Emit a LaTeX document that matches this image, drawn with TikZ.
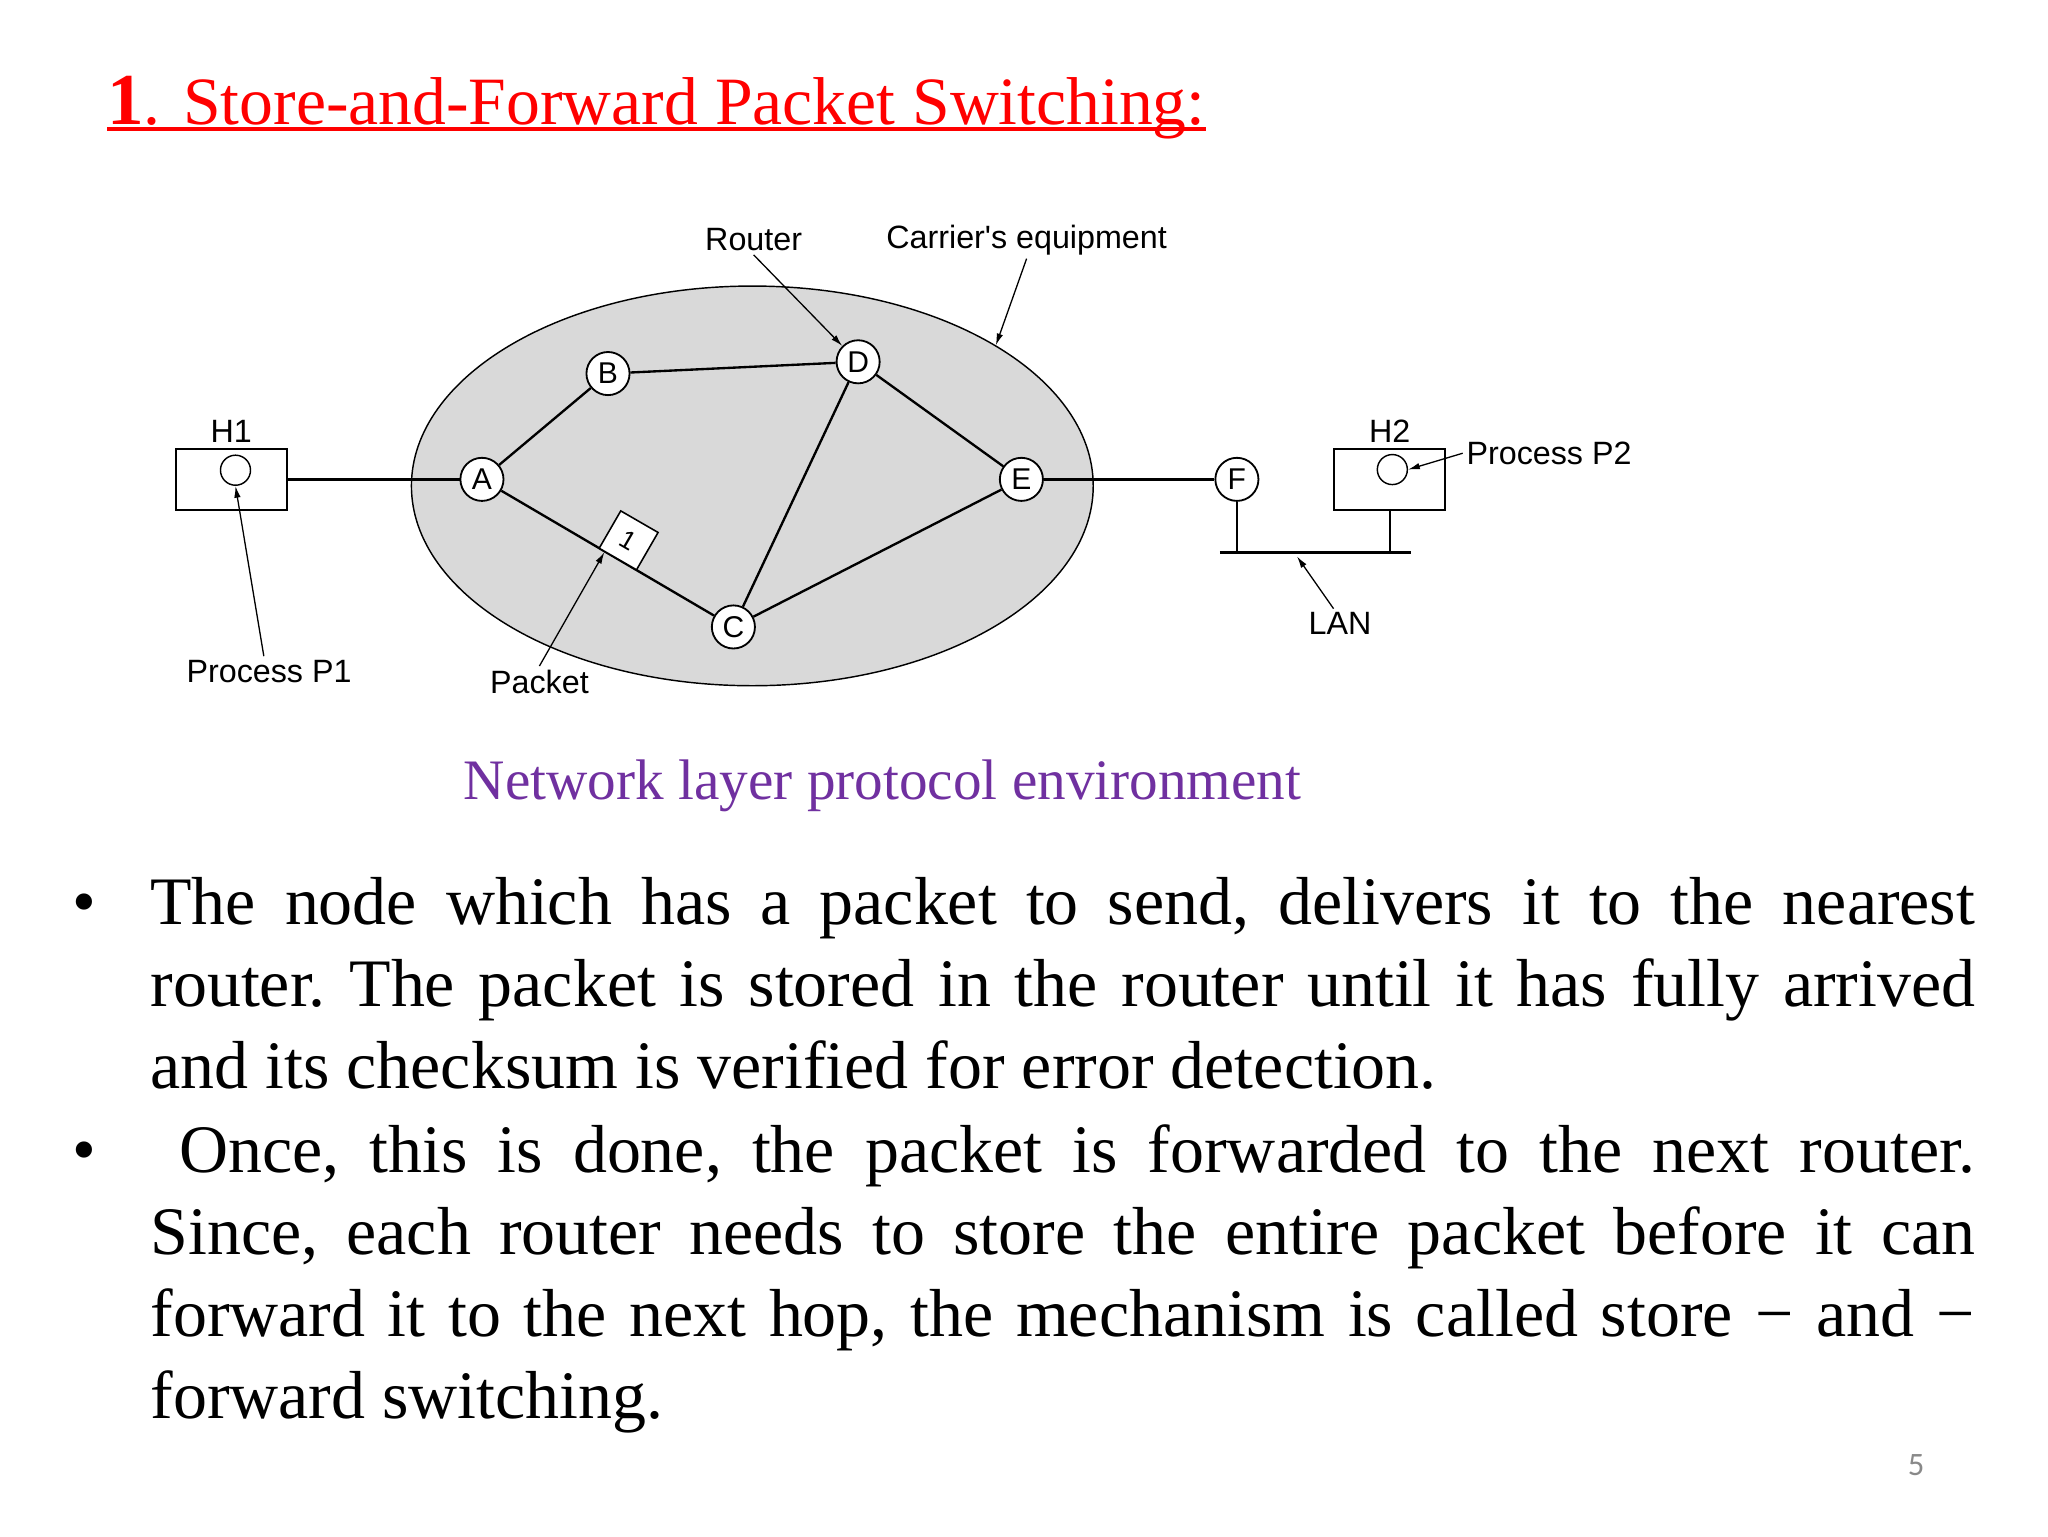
\documentclass[tikz,border=0pt]{standalone}
\usepackage{fontspec}
\setmainfont{Liberation Serif}
\newfontfamily\labelfont{Liberation Sans}
\newfontfamily\numfont{Carlito}
\usetikzlibrary{positioning,arrows.meta,shapes.geometric,calc}
\definecolor{titlered}{RGB}{255,0,0}
\definecolor{capviolet}{RGB}{112,48,160}
\definecolor{netgray}{RGB}{217,217,217}
\definecolor{pagegray}{RGB}{137,137,137}

\begin{document}
\begin{tikzpicture}[x=1pt, y=-1pt,
  lbl/.style={font=\labelfont\fontsize{24.7}{28}\selectfont, inner sep=0pt, outer sep=3pt},
  router/.style={circle, draw=black, line width=1.4pt, fill=white, minimum size=33pt, inner sep=0pt, font=\labelfont\fontsize{23}{26}\selectfont},
  hostbox/.style={rectangle, draw=black, line width=1.4pt, fill=white, minimum width=85pt, minimum height=47pt, inner sep=0pt},
  proc/.style={circle, draw=black, line width=1.1pt, minimum size=23pt, inner sep=0pt},
  link/.style={draw=black, line width=1.8pt},
  lanbus/.style={draw=black, line width=3pt},
  pointer/.style={draw=black, line width=1pt, -{Latex[length=9pt,width=5pt]}},
  bodytext/.style={font=\fontsize{52}{62.6}\selectfont, inner sep=0pt, anchor=base west}
]
\fill[white] (0,0) rectangle (1568,1176);
\useasboundingbox (0,0) rectangle (1568,1176);

% title
\node[anchor=base west, inner sep=0pt, text=titlered, font=\fontsize{51.8}{60}\selectfont] (ttl) at (82,95)
  {\textbf{\fontsize{56}{60}\selectfont 1}. Store-and-Forward Packet Switching:};
\draw[titlered, line width=3pt] ([yshift=-4pt]ttl.base west) -- ([yshift=-4pt]ttl.base east);

% carrier network
\node[ellipse, draw=black, fill=netgray, line width=1.1pt, minimum width=522pt, minimum height=306pt, inner sep=0pt] (carrier) at (576,372) {};

\node[router] (A) at (369,367) {A};
\node[router] (B) at (465.5,286) {B};
\node[router] (C) at (561.5,480) {C};
\node[router] (D) at (657,277) {D};
\node[router] (E) at (782,367) {E};
\node[router] (F) at (947,367) {F};

\node[hostbox] (H1) at (177,367) {};
\node[proc] (P1) at (180.3,360) {};
\node[lbl, above=1pt of H1] (lblh1) {H1};
\node[hostbox] (H2) at (1064,367) {};
\node[proc] (P2) at (1066,359.5) {};
\node[lbl, above=1pt of H2] (lblh2) {H2};

\draw[link] (H1) -- (A);
\draw[link] (A) -- (B);
\draw[link] (B) -- (D);
\draw[link] (D) -- (E);
\draw[link] (A) -- (C);
\draw[link] (C) -- (D);
\draw[link] (C) -- (E);
\draw[link] (E) -- (F);

\node[draw=black, fill=white, line width=1.2pt, minimum size=33pt, inner sep=0pt, rotate=-30,
  font=\labelfont\fontsize{20}{22}\selectfont] (pkt) at (481.3,413.7) {1};

% LAN
\coordinate (lanL) at (934,423);
\coordinate (lanR) at (1080,423);
\draw[lanbus] (lanL) -- (lanR);
\draw[link] (F.south) -- (F.south |- lanL);
\draw[link] (H2.south) -- (H2.south |- lanL);
\coordinate (lantip) at (993,426);

% labels
\node[lbl] (lblrouter) at (577,183.5) {Router};
\node[lbl] (lblcarrier) at (786,183.5) {Carrier's equipment};
\node[lbl] (lblp1) at (206,514) {Process P1};
\node[lbl] (lblpkt) at (413,522) {Packet};
\node[lbl] (lbllan) at (1026,477.5) {LAN};
\node[lbl] (lblp2) at (1186,347) {Process P2};

\draw[pointer] (lblrouter.south) -- (D.north west);
\draw[pointer] (lblcarrier.south) -- (carrier.30);
\draw[pointer] ([xshift=-4pt]lblp1.north) -- (P1.south);
\draw[pointer] (lblpkt.north) -- (pkt.236);
\draw[pointer] ([xshift=-5pt]lbllan.north) -- (lantip);
\draw[pointer] (lblp2.west) -- (P2.east);

% caption
\node[anchor=base west, inner sep=0pt, text=capviolet, font=\fontsize{43.8}{50}\selectfont] (caption) at (355,612)
  {Network layer protocol environment};

% bullets
\node[bodytext] (bul1) at (55,708) {•};
\node[bodytext] (txt1) at (115,708) {\parbox[t]{1397pt}{\frenchspacing\hyphenpenalty=10000\tolerance=10000\hbadness=10000
  The node which has a packet to send, delivers it to the nearest\linebreak
  router. The packet is stored in the router until it has fully arrived\linebreak
  and its checksum is verified for error detection.}};
\node[bodytext] (bul2) at (55,898) {•};
\node[bodytext] (txt2) at (115,898) {\parbox[t]{1397pt}{\frenchspacing\hyphenpenalty=10000\tolerance=10000\hbadness=10000
  \hspace*{22pt}Once, this is done, the packet is forwarded to the next router.\linebreak
  Since, each router needs to store the entire packet before it can\linebreak
  forward it to the next hop, the mechanism is called store − and −\linebreak
  forward switching.}};

\node[anchor=base, inner sep=0pt, text=pagegray, font=\numfont\fontsize{25}{28}\selectfont] (pgnum) at (1467,1130) {5};
\end{tikzpicture}
\end{document}
